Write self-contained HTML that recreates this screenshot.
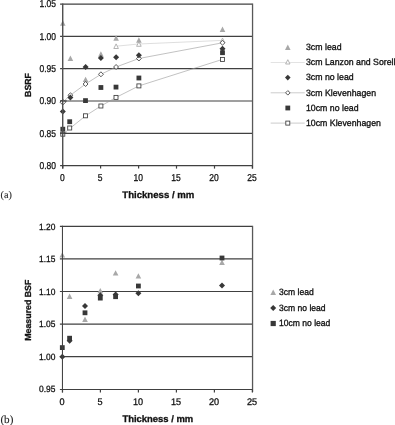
<!DOCTYPE html>
<html><head><meta charset="utf-8"><title>Figure</title>
<style>
html,body{margin:0;padding:0;background:#fff}
svg text{font-family:"Liberation Sans",Arial,sans-serif;fill:#111;stroke:#111;stroke-width:0.28px;text-rendering:geometricPrecision}
.ta{font-size:10px}
.tb{font-size:9px}
.tb.xtb{font-size:9.6px}
.l{font-size:9.1px;stroke-width:0.32px}
.xt{font-size:9.6px;font-weight:bold;stroke-width:0.3px}
.xt.xb{font-size:9.45px}
.yt{font-size:8.8px;font-weight:bold;stroke-width:0.3px}
svg text.s{font-family:"Liberation Serif","Times New Roman",serif;font-size:10.2px;stroke:#222;stroke-width:0.1px;fill:#222}
</style></head><body>
<svg width="395" height="425" viewBox="0 0 395 425" style="display:block;filter:blur(0.3px)">
<rect width="395" height="425" fill="#fff"/>
<g>
<line x1="60.1" y1="4.1" x2="252.4" y2="4.1" stroke="#404040" stroke-width="1.2"/>
<text transform="translate(56.0 7.4) scale(0.85 1)" text-anchor="end" class="ta">1.05</text>
<line x1="60.1" y1="36.4" x2="252.4" y2="36.4" stroke="#404040" stroke-width="1.2"/>
<text transform="translate(56.0 39.7) scale(0.85 1)" text-anchor="end" class="ta">1.00</text>
<line x1="60.1" y1="68.7" x2="252.4" y2="68.7" stroke="#404040" stroke-width="1.2"/>
<text transform="translate(56.0 72.0) scale(0.85 1)" text-anchor="end" class="ta">0.95</text>
<line x1="60.1" y1="101.0" x2="252.4" y2="101.0" stroke="#404040" stroke-width="1.2"/>
<text transform="translate(56.0 104.3) scale(0.85 1)" text-anchor="end" class="ta">0.90</text>
<line x1="60.1" y1="133.3" x2="252.4" y2="133.3" stroke="#404040" stroke-width="1.2"/>
<text transform="translate(56.0 136.6) scale(0.85 1)" text-anchor="end" class="ta">0.85</text>
<text transform="translate(56.0 168.9) scale(0.85 1)" text-anchor="end" class="ta">0.80</text>
<line x1="252.55" y1="3.5" x2="252.55" y2="168.6" stroke="#585858" stroke-width="1.3"/>
<text transform="translate(62.3 181.0) scale(0.85 1)" text-anchor="middle" class="ta xta">0</text>
<text transform="translate(100.2 181.0) scale(0.85 1)" text-anchor="middle" class="ta xta">5</text>
<text transform="translate(138.2 181.0) scale(0.85 1)" text-anchor="middle" class="ta xta">10</text>
<text transform="translate(176.1 181.0) scale(0.85 1)" text-anchor="middle" class="ta xta">15</text>
<text transform="translate(214.1 181.0) scale(0.85 1)" text-anchor="middle" class="ta xta">20</text>
<text transform="translate(252.0 181.0) scale(0.85 1)" text-anchor="middle" class="ta xta">25</text>
<text x="158.3" y="198.3" text-anchor="middle" class="xt">Thickness / mm</text>
<polyline points="116.1,46.2 138.9,44.0 222.5,40.4" fill="none" stroke="#c8c8c8" stroke-width="0.6"/>
<polyline points="62.8,102.1 70.4,95.2 85.6,84.0 100.9,74.3 116.1,67.0 138.9,58.5 222.5,42.8" fill="none" stroke="#989898" stroke-width="0.6"/>
<polyline points="62.8,134.2 70.4,128.0 85.6,115.8 100.9,106.0 116.1,97.4 138.9,85.9 222.5,59.4" fill="none" stroke="#989898" stroke-width="0.6"/>
<path d="M62.8 20.3L65.6 25.7L60.0 25.7Z" fill="#a8a8a8"/>
<path d="M70.4 55.5L73.2 60.9L67.6 60.9Z" fill="#a8a8a8"/>
<path d="M85.6 76.7L88.4 82.1L82.8 82.1Z" fill="#a8a8a8"/>
<path d="M100.9 51.3L103.7 56.7L98.1 56.7Z" fill="#a8a8a8"/>
<path d="M116.1 35.3L118.9 40.7L113.3 40.7Z" fill="#a8a8a8"/>
<path d="M138.9 37.3L141.7 42.7L136.1 42.7Z" fill="#a8a8a8"/>
<path d="M222.5 26.6L225.3 32.0L219.7 32.0Z" fill="#a8a8a8"/>
<path d="M116.1 43.9L118.4 48.5L113.8 48.5Z" fill="#fff" stroke="#a8a8a8" stroke-width="0.85"/>
<path d="M138.9 41.7L141.2 46.3L136.6 46.3Z" fill="#fff" stroke="#a8a8a8" stroke-width="0.85"/>
<path d="M222.5 38.1L224.8 42.7L220.2 42.7Z" fill="#fff" stroke="#a8a8a8" stroke-width="0.85"/>
<path d="M62.8 99.2L65.7 102.1L62.8 105.0L59.9 102.1Z" fill="#fff" stroke="#3c3c3c" stroke-width="0.85"/>
<path d="M70.4 92.8L72.9 95.2L70.4 97.7L68.0 95.2Z" fill="#fff" stroke="#3c3c3c" stroke-width="0.85"/>
<path d="M85.6 81.5L88.0 84.0L85.6 86.5L83.1 84.0Z" fill="#fff" stroke="#3c3c3c" stroke-width="0.85"/>
<path d="M100.9 71.8L103.4 74.3L100.9 76.8L98.5 74.3Z" fill="#fff" stroke="#3c3c3c" stroke-width="0.85"/>
<path d="M116.1 64.5L118.5 67.0L116.1 69.5L113.6 67.0Z" fill="#fff" stroke="#3c3c3c" stroke-width="0.85"/>
<path d="M138.9 56.0L141.3 58.5L138.9 61.0L136.5 58.5Z" fill="#fff" stroke="#3c3c3c" stroke-width="0.85"/>
<path d="M222.5 40.3L224.9 42.8L222.5 45.2L220.1 42.8Z" fill="#fff" stroke="#3c3c3c" stroke-width="0.85"/>
<path d="M62.8 108.5L65.8 111.5L62.8 114.5L59.8 111.5Z" fill="#383838"/>
<path d="M70.4 94.6L73.4 97.6L70.4 100.6L67.4 97.6Z" fill="#383838"/>
<path d="M85.6 64.0L88.6 67.0L85.6 70.0L82.6 67.0Z" fill="#383838"/>
<path d="M100.9 54.9L103.9 57.9L100.9 60.9L97.9 57.9Z" fill="#383838"/>
<path d="M116.1 54.2L119.1 57.2L116.1 60.2L113.1 57.2Z" fill="#383838"/>
<path d="M138.9 52.2L141.9 55.2L138.9 58.2L135.9 55.2Z" fill="#383838"/>
<path d="M222.5 45.8L225.5 48.8L222.5 51.8L219.5 48.8Z" fill="#383838"/>
<rect x="60.8" y="132.2" width="4.0" height="4.0" fill="#fff" stroke="#3c3c3c" stroke-width="0.85"/>
<rect x="67.7" y="126.0" width="4.0" height="4.0" fill="#fff" stroke="#3c3c3c" stroke-width="0.85"/>
<rect x="83.5" y="113.8" width="4.0" height="4.0" fill="#fff" stroke="#3c3c3c" stroke-width="0.85"/>
<rect x="98.9" y="104.0" width="4.0" height="4.0" fill="#fff" stroke="#3c3c3c" stroke-width="0.85"/>
<rect x="114.0" y="95.4" width="4.0" height="4.0" fill="#fff" stroke="#3c3c3c" stroke-width="0.85"/>
<rect x="136.9" y="83.9" width="4.0" height="4.0" fill="#fff" stroke="#3c3c3c" stroke-width="0.85"/>
<rect x="220.5" y="57.4" width="4.0" height="4.0" fill="#fff" stroke="#3c3c3c" stroke-width="0.85"/>
<rect x="60.4" y="126.8" width="4.8" height="4.8" fill="#383838"/>
<rect x="67.3" y="119.3" width="4.8" height="4.8" fill="#383838"/>
<rect x="83.1" y="98.2" width="4.8" height="4.8" fill="#383838"/>
<rect x="98.5" y="85.1" width="4.8" height="4.8" fill="#383838"/>
<rect x="113.6" y="84.7" width="4.8" height="4.8" fill="#383838"/>
<rect x="136.5" y="75.6" width="4.8" height="4.8" fill="#383838"/>
<rect x="220.1" y="50.3" width="4.8" height="4.8" fill="#383838"/>
<line x1="62.7" y1="3.50" x2="62.7" y2="168.6" stroke="#505050" stroke-width="1.45"/>
<line x1="60.1" y1="165.60" x2="252.4" y2="165.60" stroke="#404040" stroke-width="1.2"/>
<line x1="62.7" y1="165.6" x2="62.7" y2="168.6" stroke="#404040" stroke-width="1.2"/>
<line x1="100.6" y1="165.6" x2="100.6" y2="168.6" stroke="#404040" stroke-width="1.2"/>
<line x1="138.6" y1="165.6" x2="138.6" y2="168.6" stroke="#404040" stroke-width="1.2"/>
<line x1="176.5" y1="165.6" x2="176.5" y2="168.6" stroke="#404040" stroke-width="1.2"/>
<line x1="214.5" y1="165.6" x2="214.5" y2="168.6" stroke="#404040" stroke-width="1.2"/>
<line x1="252.4" y1="165.6" x2="252.4" y2="168.6" stroke="#404040" stroke-width="1.2"/>
<line x1="60.1" y1="101.0" x2="66.7" y2="101.0" stroke="#404040" stroke-width="1.2"/>
<line x1="60.1" y1="133.3" x2="66.7" y2="133.3" stroke="#404040" stroke-width="1.2"/>
</g>
<g>
<line x1="59.9" y1="226.4" x2="252.4" y2="226.4" stroke="#404040" stroke-width="1.2"/>
<text transform="translate(55.4 229.7) scale(0.935 1)" text-anchor="end" class="tb">1.20</text>
<line x1="59.9" y1="258.9" x2="252.4" y2="258.9" stroke="#404040" stroke-width="1.2"/>
<text transform="translate(55.4 262.2) scale(0.935 1)" text-anchor="end" class="tb">1.15</text>
<line x1="59.9" y1="291.5" x2="252.4" y2="291.5" stroke="#404040" stroke-width="1.2"/>
<text transform="translate(55.4 294.8) scale(0.935 1)" text-anchor="end" class="tb">1.10</text>
<line x1="59.9" y1="324.1" x2="252.4" y2="324.1" stroke="#404040" stroke-width="1.2"/>
<text transform="translate(55.4 327.4) scale(0.935 1)" text-anchor="end" class="tb">1.05</text>
<line x1="59.9" y1="356.6" x2="252.4" y2="356.6" stroke="#404040" stroke-width="1.2"/>
<text transform="translate(55.4 359.9) scale(0.935 1)" text-anchor="end" class="tb">1.00</text>
<text transform="translate(55.4 392.4) scale(0.935 1)" text-anchor="end" class="tb">0.95</text>
<line x1="252.55" y1="225.8" x2="252.55" y2="392.1" stroke="#585858" stroke-width="1.3"/>
<text transform="translate(62.1 405.1) scale(0.95 1)" text-anchor="middle" class="tb xtb">0</text>
<text transform="translate(100.0 405.1) scale(0.95 1)" text-anchor="middle" class="tb xtb">5</text>
<text transform="translate(138.0 405.1) scale(0.95 1)" text-anchor="middle" class="tb xtb">10</text>
<text transform="translate(176.0 405.1) scale(0.95 1)" text-anchor="middle" class="tb xtb">15</text>
<text transform="translate(214.0 405.1) scale(0.95 1)" text-anchor="middle" class="tb xtb">20</text>
<text transform="translate(252.0 405.1) scale(0.95 1)" text-anchor="middle" class="tb xtb">25</text>
<text x="157.8" y="421.8" text-anchor="middle" class="xt xb">Thickness / mm</text>
<path d="M62.3 252.2L65.1 257.6L59.5 257.6Z" fill="#a8a8a8"/>
<path d="M69.6 293.5L72.4 298.9L66.8 298.9Z" fill="#a8a8a8"/>
<path d="M85.0 316.6L87.8 322.0L82.2 322.0Z" fill="#a8a8a8"/>
<path d="M100.3 287.9L103.1 293.3L97.5 293.3Z" fill="#a8a8a8"/>
<path d="M115.6 270.2L118.4 275.6L112.8 275.6Z" fill="#a8a8a8"/>
<path d="M138.4 273.2L141.2 278.6L135.6 278.6Z" fill="#a8a8a8"/>
<path d="M222.0 259.5L224.8 264.9L219.2 264.9Z" fill="#a8a8a8"/>
<path d="M62.3 353.8L65.3 356.8L62.3 359.8L59.3 356.8Z" fill="#383838"/>
<path d="M69.6 337.8L72.6 340.8L69.6 343.8L66.6 340.8Z" fill="#383838"/>
<path d="M85.0 303.0L88.0 306.0L85.0 309.0L82.0 306.0Z" fill="#383838"/>
<path d="M100.3 292.2L103.3 295.2L100.3 298.2L97.3 295.2Z" fill="#383838"/>
<path d="M115.6 291.4L118.6 294.4L115.6 297.4L112.6 294.4Z" fill="#383838"/>
<path d="M138.4 290.2L141.4 293.2L138.4 296.2L135.4 293.2Z" fill="#383838"/>
<path d="M222.0 282.6L225.0 285.6L222.0 288.6L219.0 285.6Z" fill="#383838"/>
<rect x="59.9" y="345.2" width="4.8" height="4.8" fill="#383838"/>
<rect x="67.2" y="335.8" width="4.8" height="4.8" fill="#383838"/>
<rect x="82.6" y="310.4" width="4.8" height="4.8" fill="#383838"/>
<rect x="97.9" y="295.7" width="4.8" height="4.8" fill="#383838"/>
<rect x="113.2" y="294.3" width="4.8" height="4.8" fill="#383838"/>
<rect x="136.0" y="283.6" width="4.8" height="4.8" fill="#383838"/>
<rect x="219.6" y="255.6" width="4.8" height="4.8" fill="#383838"/>
<line x1="62.45" y1="225.80" x2="62.45" y2="392.4" stroke="#404040" stroke-width="1.05"/>
<line x1="59.9" y1="389.40" x2="252.4" y2="389.40" stroke="#404040" stroke-width="1.05"/>
<line x1="62.5" y1="389.4" x2="62.5" y2="392.4" stroke="#404040" stroke-width="1.2"/>
<line x1="100.4" y1="389.4" x2="100.4" y2="392.4" stroke="#404040" stroke-width="1.2"/>
<line x1="138.4" y1="389.4" x2="138.4" y2="392.4" stroke="#404040" stroke-width="1.2"/>
<line x1="176.4" y1="389.4" x2="176.4" y2="392.4" stroke="#404040" stroke-width="1.2"/>
<line x1="214.4" y1="389.4" x2="214.4" y2="392.4" stroke="#404040" stroke-width="1.2"/>
<line x1="252.4" y1="389.4" x2="252.4" y2="392.4" stroke="#404040" stroke-width="1.2"/>
</g>
<text transform="translate(31.3,85) rotate(-90)" text-anchor="middle" class="yt">BSRF</text>
<text transform="translate(30.6,310.2) rotate(-90)" text-anchor="middle" class="yt">Measured BSF</text>
<text x="0.5" y="197.9" class="s">(a)</text>
<text x="0.4" y="423.3" class="s" style="font-size:11.1px">(b)</text>
<text transform="translate(306 50.0) scale(0.962 1)" class="l">3cm lead</text>
<line x1="270.7" y1="62.5" x2="304.7" y2="62.5" stroke="#d0d0d0" stroke-width="0.6"/>
<text transform="translate(306 65.2) scale(0.962 1)" class="l">3cm Lanzon and Sorell</text>
<text transform="translate(306 80.3) scale(0.962 1)" class="l">3cm no lead</text>
<line x1="270.7" y1="92.8" x2="304.7" y2="92.8" stroke="#a8a8a8" stroke-width="0.6"/>
<text transform="translate(306 95.5) scale(0.962 1)" class="l">3cm Klevenhagen</text>
<text transform="translate(306 110.7) scale(0.962 1)" class="l">10cm no lead</text>
<line x1="270.7" y1="123.1" x2="304.7" y2="123.1" stroke="#a8a8a8" stroke-width="0.6"/>
<text transform="translate(306 125.8) scale(0.962 1)" class="l">10cm Klevenhagen</text>
<path d="M287.8 44.6L290.6 50.0L285.0 50.0Z" fill="#a8a8a8"/>
<path d="M287.8 59.7L290.0 64.0L285.6 64.0Z" fill="#fff" stroke="#a8a8a8" stroke-width="0.85"/>
<path d="M287.8 74.8L290.6 77.6L287.8 80.4L285.0 77.6Z" fill="#383838"/>
<path d="M287.8 90.6L290.1 92.8L287.8 95.1L285.6 92.8Z" fill="#fff" stroke="#3c3c3c" stroke-width="0.85"/>
<rect x="285.4" y="105.6" width="4.8" height="4.8" fill="#383838"/>
<rect x="285.8" y="121.1" width="4.0" height="4.0" fill="#fff" stroke="#3c3c3c" stroke-width="0.85"/>
<text transform="translate(279 295.1) scale(0.94 1)" class="l">3cm lead</text>
<text transform="translate(279 310.9) scale(0.94 1)" class="l">3cm no lead</text>
<text transform="translate(279 326.4) scale(0.94 1)" class="l">10cm no lead</text>
<path d="M273.2 289.5L276.0 294.9L270.4 294.9Z" fill="#a8a8a8"/>
<path d="M273.2 305.0L276.2 308.0L273.2 311.0L270.2 308.0Z" fill="#383838"/>
<rect x="270.6" y="320.9" width="5.2" height="5.2" fill="#383838"/>
</svg>
</body></html>
